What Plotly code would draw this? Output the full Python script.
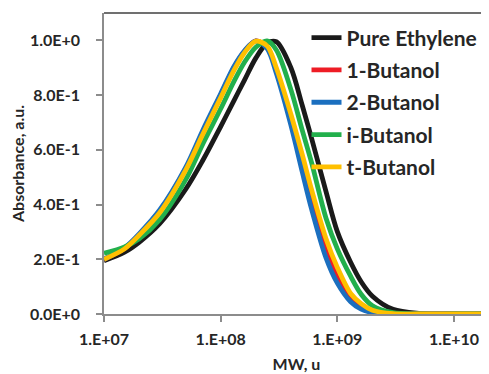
import plotly.graph_objects as go

# Molecular weight grid (u)
mw = [1e7, 1.5e7, 2e7, 3e7, 5e7, 7e7, 1e8, 1.3e8, 1.6e8, 2e8, 2.5e8, 3e8, 4e8, 5e8,
      6e8, 8e8, 1e9, 1.3e9, 1.6e9, 2e9, 3e9, 5e9, 1e10, 2e10]

pure_ethylene = [0.195, 0.226, 0.262, 0.33, 0.455, 0.56, 0.685, 0.78, 0.855, 0.935, 0.99, 0.995, 0.90, 0.763,
                 0.644, 0.447, 0.301, 0.189, 0.118, 0.065, 0.017, 0.002, 0.0, 0.0]
butanol_1 = [0.20, 0.24, 0.29, 0.375, 0.53, 0.66, 0.80, 0.90, 0.96, 0.998, 0.975, 0.89, 0.71, 0.555,
             0.42, 0.24, 0.14, 0.06, 0.028, 0.01, 0.001, 0.0, 0.0, 0.0]
butanol_2 = [0.20, 0.242, 0.293, 0.38, 0.535, 0.67, 0.805, 0.905, 0.962, 0.998, 0.97, 0.88, 0.69, 0.52,
             0.385, 0.205, 0.113, 0.045, 0.018, 0.005, 0.0, 0.0, 0.0, 0.0]
butanol_i = [0.222, 0.245, 0.275, 0.345, 0.49, 0.62, 0.75, 0.85, 0.92, 0.975, 0.998, 0.965, 0.82, 0.672,
             0.555, 0.35, 0.238, 0.138, 0.072, 0.03, 0.005, 0.0, 0.0, 0.0]
butanol_t = [0.20, 0.238, 0.288, 0.37, 0.525, 0.655, 0.79, 0.89, 0.955, 0.997, 0.98, 0.90, 0.73, 0.583,
             0.456, 0.275, 0.17, 0.075, 0.038, 0.014, 0.001, 0.0, 0.0, 0.0]

series_names = ["Pure Ethylene", "1-Butanol", "2-Butanol", "i-Butanol", "t-Butanol"]
series_values = [pure_ethylene, butanol_1, butanol_2, butanol_i, butanol_t]
series_colors = ["#1a1a1a", "#ee1c25", "#1b6fbf", "#22b04c", "#ffc000"]

x_tickvals = [1e7, 1e8, 1e9, 1e10]
x_ticktext = ["1.E+07", "1.E+08", "1.E+09", "1.E+10"]
y_tickvals = [0, 0.2, 0.4, 0.6, 0.8, 1.0]
y_ticktext = ["0.0E+0", "2.0E-1", "4.0E-1", "6.0E-1", "8.0E-1", "1.0E+0"]

FONT = "Lato"
TXT = "#262626"

fig = go.Figure()
for i, (name, vals, col) in enumerate(zip(series_names, series_values, series_colors)):
    fig.add_trace(go.Scatter(
        x=mw, y=vals, name=name, mode="lines",
        line=dict(color=col, width=4.8, shape="spline", smoothing=0.9),
        legendgroup=f"g{i}",
    ))

# the page body adds an 8px offset, so the figure is sized to fill the rest of the window
fig.update_layout(
    width=481, height=366,
    margin=dict(l=96, r=0, t=5, b=60),
    paper_bgcolor="white", plot_bgcolor="white",
    font=dict(family=FONT, color=TXT, size=16, weight="bold"),
    showlegend=True,
    legend=dict(
        x=0.526, y=0.985, xanchor="left", yanchor="top",
        font=dict(family=FONT, size=21, color=TXT, weight="bold"),
        bgcolor="rgba(0,0,0,0)", itemwidth=30, tracegroupgap=2,
    ),
    xaxis=dict(
        type="log", range=[7, 10.3], automargin=False,
        tickvals=x_tickvals, ticktext=x_ticktext,
        showgrid=False, zeroline=False,
        showline=True, linecolor="#8c8c8c", linewidth=1.5,
        ticks="outside", ticklen=6, tickcolor="#8c8c8c", tickwidth=1.5,
        tickfont=dict(family=FONT, size=16, color=TXT, weight="bold"),
        ticklabelstandoff=4,
        title=dict(text="MW, u", font=dict(family=FONT, size=16, color=TXT, weight="bold"), standoff=12),
    ),
    yaxis=dict(
        range=[0, 1.1], automargin=False,
        tickvals=y_tickvals, ticktext=y_ticktext,
        showgrid=False, zeroline=False,
        showline=True, linecolor="#8c8c8c", linewidth=1.5,
        ticks="outside", ticklen=6, tickcolor="#8c8c8c", tickwidth=1.5,
        tickfont=dict(family=FONT, size=16, color=TXT, weight="bold"),
        ticklabelstandoff=13,
        title=dict(text="Absorbance, a.u.", font=dict(family=FONT, size=16, color=TXT, weight="bold"), standoff=5),
    ),
    shapes=[dict(type="line", xref="paper", yref="paper", x0=0, x1=1, y0=1, y1=1,
                 line=dict(color="#404040", width=1.5))],
)

fig.write_html("out.html")
